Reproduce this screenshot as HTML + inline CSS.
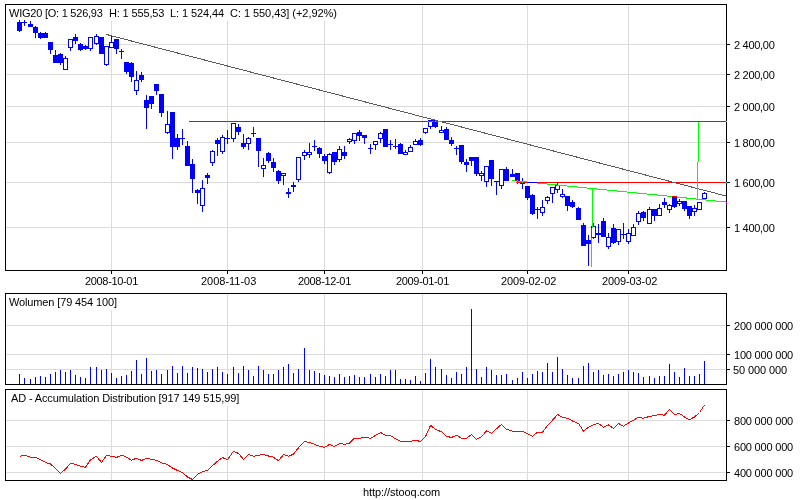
<!DOCTYPE html><html><head><meta charset="utf-8"><title>WIG20</title><style>html,body{margin:0;padding:0;background:#fff;width:800px;height:500px;overflow:hidden}svg{display:block}</style></head><body>
<svg width="800" height="500" viewBox="0 0 800 500" shape-rendering="crispEdges">
<rect x="0" y="0" width="800" height="500" fill="#fff"/>
<path fill="#dcdcdc" d="M111 5h1v265h-1zM227 5h1v265h-1zM324 5h1v265h-1zM422 5h1v265h-1zM527 5h1v265h-1zM628 5h1v265h-1zM6 44h720v1h-720zM6 74h720v1h-720zM6 106h720v1h-720zM6 142h720v1h-720zM6 182h720v1h-720zM6 227h720v1h-720zM111 294h1v90h-1zM227 294h1v90h-1zM324 294h1v90h-1zM422 294h1v90h-1zM527 294h1v90h-1zM628 294h1v90h-1zM6 325h720v1h-720zM6 354h720v1h-720zM6 369h720v1h-720zM111 390h1v90h-1zM227 390h1v90h-1zM324 390h1v90h-1zM422 390h1v90h-1zM527 390h1v90h-1zM628 390h1v90h-1zM6 420h720v1h-720zM6 446h720v1h-720zM6 472h720v1h-720z"/>
<path fill="#fff" d="M6 5h334v16h-334zM6 294h114v16h-114zM6 390h236v16h-236z"/>
<path fill="#0000ff" d="M19 374h1v10h-1zM24 378h1v6h-1zM30 379h1v5h-1zM35 377h1v7h-1zM40 376h1v8h-1zM45 377h1v7h-1zM50 374h1v10h-1zM55 372h1v12h-1zM60 370h1v14h-1zM65 372h1v12h-1zM70 370h1v14h-1zM75 375h1v9h-1zM80 377h1v7h-1zM85 378h1v6h-1zM90 367h1v17h-1zM96 367h1v17h-1zM101 370h1v14h-1zM106 369h1v15h-1zM111 373h1v11h-1zM116 378h1v6h-1zM121 376h1v8h-1zM126 375h1v9h-1zM131 371h1v13h-1zM136 360h1v24h-1zM141 374h1v10h-1zM146 358h1v26h-1zM151 371h1v13h-1zM156 370h1v14h-1zM161 374h1v10h-1zM167 370h1v14h-1zM172 366h1v18h-1zM177 373h1v11h-1zM182 366h1v18h-1zM187 373h1v11h-1zM192 367h1v17h-1zM197 368h1v16h-1zM202 369h1v15h-1zM207 372h1v12h-1zM212 369h1v15h-1zM217 367h1v17h-1zM222 372h1v12h-1zM227 374h1v10h-1zM233 367h1v17h-1zM238 373h1v11h-1zM243 366h1v18h-1zM248 370h1v14h-1zM253 376h1v8h-1zM258 366h1v18h-1zM263 370h1v14h-1zM268 374h1v10h-1zM273 374h1v10h-1zM278 370h1v14h-1zM283 367h1v17h-1zM288 364h1v20h-1zM293 373h1v11h-1zM298 369h1v15h-1zM304 348h1v36h-1zM309 370h1v14h-1zM314 371h1v13h-1zM319 373h1v11h-1zM324 375h1v9h-1zM329 376h1v8h-1zM334 377h1v7h-1zM339 374h1v10h-1zM344 377h1v7h-1zM349 376h1v8h-1zM354 375h1v9h-1zM359 377h1v7h-1zM364 377h1v7h-1zM370 374h1v10h-1zM375 377h1v7h-1zM380 374h1v10h-1zM385 376h1v8h-1zM390 370h1v14h-1zM395 370h1v14h-1zM400 379h1v5h-1zM405 379h1v5h-1zM410 380h1v4h-1zM415 376h1v8h-1zM420 381h1v3h-1zM425 373h1v11h-1zM430 359h1v25h-1zM435 367h1v17h-1zM441 369h1v15h-1zM446 375h1v9h-1zM451 378h1v6h-1zM456 372h1v12h-1zM461 374h1v10h-1zM466 367h1v17h-1zM471 309h1v75h-1zM476 369h1v15h-1zM481 377h1v7h-1zM486 367h1v17h-1zM491 370h1v14h-1zM496 375h1v9h-1zM501 375h1v9h-1zM506 374h1v10h-1zM512 380h1v4h-1zM517 378h1v6h-1zM522 372h1v12h-1zM527 378h1v6h-1zM532 374h1v10h-1zM537 371h1v13h-1zM542 372h1v12h-1zM547 363h1v21h-1zM552 372h1v12h-1zM557 357h1v27h-1zM562 369h1v15h-1zM567 375h1v9h-1zM572 378h1v6h-1zM578 378h1v6h-1zM583 366h1v18h-1zM588 363h1v21h-1zM593 372h1v12h-1zM598 370h1v14h-1zM603 375h1v9h-1zM608 374h1v10h-1zM613 376h1v8h-1zM618 374h1v10h-1zM623 372h1v12h-1zM628 370h1v14h-1zM633 372h1v12h-1zM638 373h1v11h-1zM643 377h1v7h-1zM649 376h1v8h-1zM654 378h1v6h-1zM659 376h1v8h-1zM664 376h1v8h-1zM669 364h1v20h-1zM674 372h1v12h-1zM679 377h1v7h-1zM684 368h1v16h-1zM689 376h1v8h-1zM694 376h1v8h-1zM699 374h1v10h-1zM704 361h1v23h-1z"/>
<polyline fill="none" stroke="#ff0000" stroke-width="1" points="19.5,456.2 24.5,455.3 30.5,457.25 35.5,457.5 40.5,459.5 45.5,462.5 50.5,464 55.5,468.5 60.5,473.3 65.5,469.25 70.5,463.25 75.5,464.3 80.5,466.25 85.5,467.3 90.5,459.8 96.5,456.2 101.5,462.5 106.5,455.3 111.5,456.2 116.5,457.5 121.5,455.1 126.5,457.2 131.5,460.2 136.5,458.25 141.5,460.5 146.5,458.25 151.5,459.3 156.5,460.2 161.5,462.75 167.5,464.5 172.5,468 177.5,470.5 182.5,472.5 187.5,477 192.5,479.5 197.5,474.3 202.5,471.75 207.5,470.25 212.5,465.75 217.5,461.25 222.5,457.5 227.5,459.75 233.5,451.2 238.5,453.5 243.5,459.3 248.5,454.5 253.5,456.3 258.5,455.25 263.5,454.5 268.5,456 273.5,457.2 278.5,460.8 283.5,454.5 288.5,456.3 293.5,454.2 298.5,447.75 304.5,441.45 309.5,442.5 314.5,444.3 319.5,446.25 324.5,447.45 329.5,444.45 334.5,446.5 339.5,443.5 344.5,444.3 349.5,443 354.5,438.2 359.5,438.2 364.5,437.3 370.5,438.2 375.5,435.5 380.5,432.5 385.5,435.2 390.5,435.5 395.5,438.8 400.5,441.2 405.5,441.2 410.5,441.2 415.5,440.3 420.5,441.5 425.5,436.7 430.5,425.3 435.5,429.5 441.5,431.75 446.5,436.25 451.5,437.5 456.5,435.2 461.5,438.2 466.5,438.25 471.5,434.5 476.5,439.3 481.5,436.75 486.5,430.75 491.5,433.3 496.5,428.8 501.5,424.3 506.5,429.25 512.5,431.2 517.5,431.2 522.5,431.2 527.5,433.75 532.5,436.3 537.5,432.25 542.5,432.25 547.5,425.5 552.5,420.25 557.5,414.5 562.5,417.25 567.5,418.3 572.5,421 578.5,423.5 583.5,431.1 588.5,427.2 593.5,424.6 598.5,423.4 603.5,427.2 608.5,425 613.5,428.3 618.5,423.4 623.5,426.2 628.5,423 633.5,420.2 638.5,417.3 643.5,418.2 649.5,416.4 654.5,415.6 659.5,414.5 664.5,415.3 669.5,409.3 674.5,414.5 679.5,413.4 684.5,417 689.5,419.7 694.5,417 699.5,412.5 704.5,405"/>
<path fill="#0000ff" d="M19 20h1v12h-1zM17 22h5v9h-5zM24 20h1v6h-1zM22 22h5v1h-5zM30 21h1v6h-1zM28 24h5v3h-5zM35 26h1v12h-1zM33 27h5v6h-5zM40 32h1v7h-1zM38 33h5v5h-5zM45 32h1v6h-1zM43 33h5v5h-5zM50 42h1v12h-1zM48 42h5v8h-5zM55 50h1v13h-1zM53 55h5v8h-5zM60 53h1v12h-1zM58 54h5v9h-5zM65 56h1v14h-1zM63 58h5v12h-5zM70 39h1v12h-1zM68 39h5v9h-5zM75 34h1v10h-1zM73 37h5v4h-5zM80 43h1v8h-1zM78 44h5v6h-5zM85 45h1v5h-1zM83 46h5v3h-5zM90 37h1v14h-1zM88 37h5v12h-5zM96 34h1v11h-1zM94 36h5v8h-5zM101 37h1v17h-1zM99 37h5v17h-5zM106 46h1v20h-1zM104 46h5v19h-5zM111 36h1v12h-1zM109 42h5v6h-5zM116 39h1v15h-1zM114 39h5v10h-5zM121 49h1v10h-1zM119 51h5v1h-5zM126 62h1v12h-1zM124 62h5v10h-5zM131 62h1v20h-1zM129 63h5v14h-5zM136 71h1v24h-1zM134 80h5v11h-5zM141 72h1v10h-1zM139 75h5v5h-5zM146 95h1v34h-1zM144 100h5v8h-5zM151 96h1v13h-1zM149 96h5v8h-5zM156 84h1v11h-1zM154 84h5v7h-5zM161 94h1v23h-1zM159 94h5v19h-5zM167 111h1v23h-1zM165 124h5v9h-5zM172 112h1v47h-1zM170 112h5v35h-5zM177 134h1v16h-1zM175 138h5v9h-5zM182 129h1v16h-1zM180 138h5v1h-5zM187 141h1v25h-1zM185 146h5v20h-5zM192 159h1v34h-1zM190 164h5v15h-5zM197 189h1v15h-1zM195 190h5v3h-5zM202 180h1v32h-1zM200 188h5v18h-5zM207 173h1v11h-1zM205 175h5v3h-5zM212 150h1v16h-1zM210 151h5v12h-5zM217 138h1v18h-1zM215 140h5v4h-5zM222 135h1v19h-1zM220 137h5v15h-5zM227 130h1v14h-1zM225 138h5v1h-5zM233 123h1v19h-1zM231 123h5v16h-5zM238 124h1v11h-1zM236 127h5v5h-5zM243 134h1v15h-1zM241 143h5v4h-5zM248 137h1v13h-1zM246 138h5v6h-5zM253 127h1v10h-1zM251 133h5v1h-5zM258 138h1v29h-1zM256 138h5v13h-5zM263 158h1v19h-1zM261 165h5v4h-5zM268 152h1v11h-1zM266 153h5v8h-5zM273 158h1v14h-1zM271 162h5v6h-5zM278 170h1v14h-1zM276 171h5v10h-5zM283 173h1v12h-1zM281 173h5v3h-5zM288 188h1v10h-1zM286 192h5v2h-5zM293 182h1v10h-1zM291 185h5v2h-5zM298 157h1v25h-1zM296 157h5v23h-5zM304 150h1v10h-1zM302 152h5v4h-5zM309 143h1v15h-1zM307 152h5v3h-5zM314 140h1v11h-1zM312 146h5v1h-5zM319 147h1v11h-1zM317 148h5v6h-5zM324 154h1v10h-1zM322 156h5v5h-5zM329 153h1v21h-1zM327 154h5v19h-5zM334 152h1v13h-1zM332 152h5v10h-5zM339 146h1v16h-1zM337 149h5v11h-5zM344 146h1v13h-1zM342 152h5v4h-5zM349 138h1v6h-1zM347 139h5v3h-5zM354 133h1v11h-1zM352 133h5v8h-5zM359 130h1v11h-1zM357 132h5v4h-5zM364 135h1v9h-1zM362 135h5v3h-5zM370 144h1v10h-1zM368 148h5v1h-5zM375 141h1v9h-1zM373 141h5v4h-5zM380 132h1v11h-1zM378 133h5v6h-5zM385 129h1v18h-1zM383 129h5v18h-5zM390 140h1v10h-1zM388 144h5v1h-5zM395 139h1v10h-1zM393 146h5v1h-5zM400 143h1v11h-1zM398 144h5v10h-5zM405 150h1v5h-1zM403 152h5v3h-5zM410 145h1v7h-1zM408 147h5v5h-5zM415 139h1v6h-1zM413 141h5v4h-5zM420 138h1v8h-1zM418 140h5v5h-5zM425 128h1v6h-1zM423 128h5v5h-5zM430 120h1v9h-1zM428 120h5v7h-5zM435 120h1v8h-1zM433 120h5v7h-5zM441 126h1v7h-1zM439 130h5v3h-5zM446 127h1v13h-1zM444 129h5v11h-5zM451 137h1v9h-1zM449 140h5v4h-5zM456 146h1v9h-1zM454 148h5v1h-5zM461 145h1v19h-1zM459 145h5v17h-5zM466 159h1v13h-1zM464 162h5v3h-5zM471 157h1v9h-1zM469 157h5v4h-5zM476 157h1v19h-1zM474 157h5v17h-5zM481 171h1v10h-1zM479 173h5v3h-5zM486 166h1v21h-1zM484 166h5v16h-5zM491 160h1v26h-1zM489 160h5v19h-5zM496 181h1v14h-1zM494 181h5v1h-5zM501 169h1v20h-1zM499 169h5v17h-5zM506 167h1v14h-1zM504 169h5v12h-5zM512 169h1v8h-1zM510 174h5v3h-5zM517 173h1v11h-1zM515 173h5v8h-5zM522 178h1v11h-1zM520 183h5v1h-5zM527 186h1v14h-1zM525 186h5v12h-5zM532 194h1v21h-1zM530 195h5v19h-5zM537 207h1v12h-1zM535 209h5v1h-5zM542 200h1v16h-1zM540 207h5v6h-5zM547 196h1v8h-1zM545 197h5v4h-5zM552 187h1v16h-1zM550 187h5v7h-5zM557 182h1v11h-1zM555 185h5v5h-5zM562 189h1v9h-1zM560 194h5v3h-5zM567 196h1v15h-1zM565 196h5v10h-5zM572 200h1v8h-1zM570 202h5v5h-5zM578 207h1v13h-1zM576 208h5v12h-5zM583 223h1v23h-1zM581 225h5v21h-5zM588 235h1v31h-1zM586 240h5v4h-5zM593 223h1v16h-1zM591 226h5v12h-5zM598 224h1v19h-1zM596 233h5v2h-5zM603 218h1v19h-1zM601 221h5v16h-5zM608 233h1v16h-1zM606 237h5v10h-5zM613 224h1v20h-1zM611 228h5v15h-5zM618 229h1v16h-1zM616 229h5v13h-5zM623 223h1v16h-1zM621 234h5v1h-5zM628 229h1v15h-1zM626 233h5v9h-5zM633 224h1v12h-1zM631 227h5v9h-5zM638 211h1v14h-1zM636 213h5v9h-5zM643 211h1v10h-1zM641 212h5v6h-5zM649 207h1v17h-1zM647 209h5v15h-5zM654 209h1v12h-1zM652 209h5v7h-5zM659 204h1v12h-1zM657 208h5v8h-5zM664 198h1v10h-1zM662 202h5v3h-5zM669 204h1v9h-1zM667 205h5v5h-5zM674 196h1v12h-1zM672 196h5v11h-5zM679 199h1v7h-1zM677 201h5v3h-5zM684 201h1v10h-1zM682 201h5v8h-5zM689 206h1v13h-1zM687 206h5v10h-5zM694 205h1v11h-1zM692 208h5v4h-5zM699 202h1v8h-1zM697 202h5v8h-5zM704 192h1v7h-1zM702 193h5v6h-5z"/>
<path fill="#fff" d="M64 59h3v10h-3zM69 40h3v7h-3zM89 38h3v10h-3zM95 37h3v6h-3zM105 47h3v17h-3zM110 43h3v4h-3zM135 81h3v9h-3zM166 125h3v7h-3zM201 189h3v16h-3zM211 152h3v10h-3zM221 138h3v13h-3zM232 124h3v14h-3zM247 139h3v4h-3zM262 166h3v2h-3zM282 174h3v1h-3zM297 158h3v21h-3zM303 153h3v2h-3zM308 153h3v1h-3zM328 155h3v17h-3zM338 150h3v9h-3zM348 140h3v1h-3zM353 134h3v6h-3zM374 142h3v2h-3zM379 134h3v4h-3zM404 153h3v1h-3zM409 148h3v3h-3zM414 142h3v2h-3zM424 129h3v3h-3zM429 121h3v5h-3zM440 131h3v1h-3zM480 174h3v1h-3zM485 167h3v14h-3zM500 170h3v15h-3zM541 208h3v4h-3zM546 198h3v2h-3zM551 188h3v5h-3zM556 186h3v3h-3zM561 195h3v1h-3zM592 227h3v10h-3zM607 238h3v8h-3zM617 230h3v11h-3zM627 234h3v7h-3zM632 228h3v7h-3zM637 214h3v7h-3zM648 210h3v13h-3zM658 209h3v6h-3zM668 206h3v3h-3zM678 202h3v1h-3zM693 209h3v2h-3zM698 203h3v6h-3zM703 194h3v4h-3z"/>
<path fill="#ff0000" d="M189 121h537v1h-537zM516 182h11v1h-11zM537 182h189v1h-189z"/>
<line x1="106.5" y1="34.48" x2="725.5" y2="195.85" stroke="#5a5a5a" stroke-width="1"/>
<path fill="#5fa0a0" d="M438 121h4v1h-4z"/>
<line x1="512.5" y1="180.5" x2="725.5" y2="201.93" stroke="#00ff00" stroke-width="1"/>
<path fill="#00ff00" d="M592 189h1v39h-1zM591 228h1v39h-1zM698 122h1v40h-1zM697 162h1v38h-1z"/>
<path fill="#0000ff" d="M527 182h10v1h-10z"/>
<path fill="#ff0000" d="M515 180h2v1h-2z"/>
<path fill="#00ff00" d="M428 121h1v1h-1zM432 121h1v1h-1zM435 121h1v1h-1zM517 182h1v1h-1zM522 182h1v1h-1z"/>
<path fill="#ff0000" d="M591 228h1v10h-1zM672 196h5v1h-5z"/>
<path fill="#000" d="M5 4h722v1h-722zM5 270h722v1h-722zM5 4h1v267h-1zM726 4h1v267h-1zM727 44h3v1h-3zM727 74h3v1h-3zM727 106h3v1h-3zM727 142h3v1h-3zM727 182h3v1h-3zM727 227h3v1h-3zM5 293h722v1h-722zM5 384h722v1h-722zM5 293h1v92h-1zM726 293h1v92h-1zM727 325h3v1h-3zM727 354h3v1h-3zM727 369h3v1h-3zM5 389h722v1h-722zM5 480h722v1h-722zM5 389h1v92h-1zM726 389h1v92h-1zM727 420h3v1h-3zM727 446h3v1h-3zM727 472h3v1h-3zM111 271h1v3h-1zM227 271h1v3h-1zM324 271h1v3h-1zM422 271h1v3h-1zM527 271h1v3h-1zM628 271h1v3h-1z"/>
<defs><filter id="th" x="0" y="0" width="800" height="500" filterUnits="userSpaceOnUse"><feComponentTransfer><feFuncA type="identity"/></feComponentTransfer></filter></defs>
<g font-family="Liberation Sans, Arial, sans-serif" font-size="11" fill="#000" shape-rendering="auto" filter="url(#th)"><text x="9.00" y="17" textLength="93.84" lengthAdjust="spacing">WIG20 [O: 1 526,93</text><text x="109.00" y="17" textLength="55.38" lengthAdjust="spacing">H: 1 555,53</text><text x="170.00" y="17" textLength="54.06" lengthAdjust="spacing">L: 1 524,44</text><text x="230.00" y="17" textLength="106.94" lengthAdjust="spacing">C: 1 550,43] (+2,92%)</text><text x="9.00" y="306" textLength="107.98" lengthAdjust="spacing">Wolumen [79 454 100]</text><text x="11.00" y="402" textLength="228.20" lengthAdjust="spacing">AD - Accumulation Distribution [917 149 515,99]</text><text x="734.00" y="49" textLength="40.83" lengthAdjust="spacing">2 400,00</text><text x="734.00" y="79" textLength="40.83" lengthAdjust="spacing">2 200,00</text><text x="734.00" y="111" textLength="40.83" lengthAdjust="spacing">2 000,00</text><text x="734.00" y="147" textLength="40.83" lengthAdjust="spacing">1 800,00</text><text x="734.00" y="187" textLength="40.83" lengthAdjust="spacing">1 600,00</text><text x="734.00" y="232" textLength="40.83" lengthAdjust="spacing">1 400,00</text><text x="734.00" y="330" textLength="59.17" lengthAdjust="spacing">200 000 000</text><text x="734.00" y="359" textLength="59.17" lengthAdjust="spacing">100 000 000</text><text x="733.00" y="374" textLength="54.06" lengthAdjust="spacing">50 000 000</text><text x="734.00" y="425" textLength="59.17" lengthAdjust="spacing">800 000 000</text><text x="734.00" y="451" textLength="59.17" lengthAdjust="spacing">600 000 000</text><text x="734.00" y="477" textLength="59.17" lengthAdjust="spacing">400 000 000</text><text x="85.00" y="285" textLength="53.28" lengthAdjust="spacing">2008-10-01</text><text x="201.00" y="285" textLength="55.28" lengthAdjust="spacing">2008-11-03</text><text x="298.00" y="285" textLength="53.28" lengthAdjust="spacing">2008-12-01</text><text x="396.00" y="285" textLength="53.28" lengthAdjust="spacing">2009-01-01</text><text x="501.00" y="285" textLength="55.28" lengthAdjust="spacing">2009-02-02</text><text x="602.00" y="285" textLength="55.28" lengthAdjust="spacing">2009-03-02</text><text x="363.00" y="496" textLength="77.27" lengthAdjust="spacing">http://stooq.com</text></g>
<path fill="#00ffff" d="M726 121h1v1h-1zM726 182h1v1h-1z"/><path fill="#ff00ff" d="M726 202h1v1h-1z"/>
</svg></body></html>
